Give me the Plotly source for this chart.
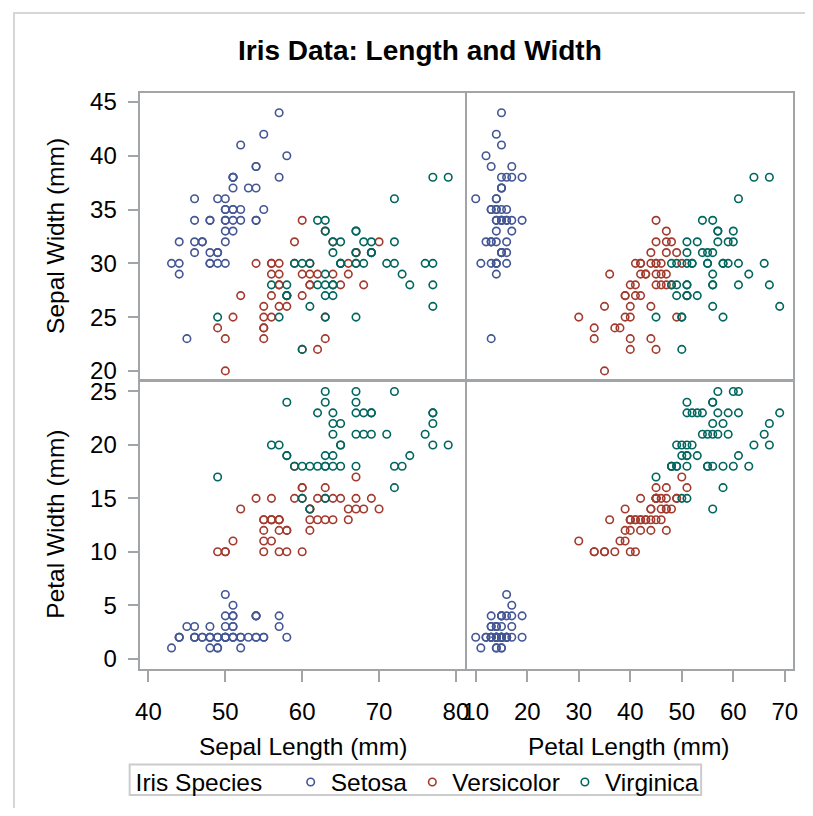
import plotly.graph_objects as go

# Iris data (mm)
species_names = ["Setosa", "Versicolor", "Virginica"]

setosa_sepal_length = [51,49,47,46,50,54,46,50,44,49,54,48,48,43,58,57,54,51,57,51,54,51,46,51,48,50,50,52,52,47,48,54,52,55,49,50,55,49,44,51,50,45,44,50,51,48,51,46,53,50]
setosa_sepal_width = [35,30,32,31,36,39,34,34,29,31,37,34,30,30,40,44,39,35,38,38,34,37,36,33,34,30,34,35,34,32,31,34,41,42,31,32,35,36,30,34,35,23,32,35,38,30,38,32,37,33]
setosa_petal_length = [14,14,13,15,14,17,14,15,14,15,15,16,14,11,12,15,13,14,17,15,17,15,10,17,19,16,16,15,14,16,16,15,15,14,15,12,13,14,13,15,13,13,13,16,19,14,16,14,15,14]
setosa_petal_width = [2,2,2,2,2,4,3,2,2,1,2,2,1,1,2,4,4,3,3,3,2,4,2,5,2,2,4,2,2,2,2,4,1,2,2,2,2,1,2,2,3,3,2,6,4,3,2,2,2,2]

versicolor_sepal_length = [70,64,69,55,65,57,63,49,66,52,50,59,60,61,56,67,56,58,62,56,59,61,63,61,64,66,68,67,60,57,55,55,58,60,54,60,67,63,56,55,55,61,58,50,56,57,57,62,51,57]
versicolor_sepal_width = [32,32,31,23,28,28,33,24,29,27,20,30,22,29,29,31,30,27,22,25,32,28,25,28,29,30,28,30,29,26,24,24,27,27,30,34,31,23,30,25,26,30,26,23,27,30,29,29,25,28]
versicolor_petal_length = [47,45,49,40,46,45,47,33,46,39,35,42,40,47,36,44,45,41,45,39,48,40,49,47,43,44,48,50,45,35,38,37,39,51,45,45,47,44,41,40,44,46,40,33,42,42,42,43,30,41]
versicolor_petal_width = [14,15,15,13,15,13,16,10,13,14,10,15,10,14,13,14,15,10,15,11,18,13,15,12,13,14,14,17,15,10,11,10,12,16,15,16,15,13,13,13,12,14,12,10,13,12,13,13,11,13]

virginica_sepal_length = [63,58,71,63,65,76,49,73,67,72,65,64,68,57,58,64,65,77,77,60,69,56,77,63,67,72,62,61,64,72,74,79,64,63,61,77,63,64,60,69,67,69,58,68,67,67,63,65,62,59]
virginica_sepal_width = [33,27,30,29,30,30,25,29,25,36,32,27,30,25,28,32,30,38,26,22,32,28,28,27,33,32,28,30,28,30,28,38,28,28,26,30,34,31,30,31,31,31,27,32,33,30,25,30,34,30]
virginica_petal_length = [60,51,59,56,58,66,45,63,58,61,51,53,55,50,51,53,55,67,69,50,57,49,67,49,57,60,48,49,56,58,61,64,56,51,56,61,56,55,48,54,56,51,51,59,57,52,50,52,54,51]
virginica_petal_width = [25,19,21,18,22,21,17,18,18,25,20,19,21,20,24,23,18,22,23,15,23,20,20,18,21,18,18,18,21,16,19,20,22,15,14,23,24,18,18,21,24,23,19,23,25,23,19,20,23,18]

species_colors = ["#445694", "#A23A2E", "#01665E"]

x_tick_sepal = [40, 50, 60, 70, 80]
x_tick_petal = [10, 20, 30, 40, 50, 60, 70]
y_tick_sepal = [20, 25, 30, 35, 40, 45]
y_tick_petal = [0, 5, 10, 15, 20, 25]

data = {
    "Setosa": (setosa_sepal_length, setosa_sepal_width, setosa_petal_length, setosa_petal_width),
    "Versicolor": (versicolor_sepal_length, versicolor_sepal_width, versicolor_petal_length, versicolor_petal_width),
    "Virginica": (virginica_sepal_length, virginica_sepal_width, virginica_petal_length, virginica_petal_width),
}

OFF = 8  # browser body margin
W, H = 813 - 2 * OFF, 816 - 2 * OFF
FONT = "Liberation Sans, Arial, sans-serif"
GRID = "#A2A5A8"
FS = 24.5

def px(x):
    return (x - OFF) / W

def py(y):
    return 1 - (y - OFF) / H

fig = go.Figure()

# panel: (xaxis, yaxis, xvar index, yvar index)
panels = [("x", "y", 0, 1), ("x2", "y2", 2, 1), ("x3", "y3", 0, 3), ("x4", "y4", 2, 3)]

for pi, (xa, ya, xi, yi) in enumerate(panels):
    for si, name in enumerate(species_names):
        vals = data[name]
        fig.add_trace(go.Scatter(
            x=vals[xi], y=vals[yi], mode="markers", name=name,
            xaxis=xa, yaxis=ya,
            legendgroup=name, showlegend=(pi == 0),
            marker=dict(symbol="circle-open", size=7.5, color=species_colors[si],
                        line=dict(width=1.6, color=species_colors[si])),
        ))

xl = [px(137), px(466)]
xr = [px(468), px(798)]
yt = [py(379), py(89)]
yb = [py(671), py(380)]

common = dict(showgrid=False, zeroline=False, showline=True, mirror=True,
              linecolor=GRID, linewidth=2, tickcolor=GRID, tickwidth=2,
              tickfont=dict(family=FONT, size=24, color="#000000"))

fig.update_layout(
    xaxis=dict(domain=xl, range=[38.84, 81.16], anchor="y", showticklabels=False, ticks="", **common),
    yaxis=dict(domain=yt, range=[19.17, 45.83], anchor="x", tickvals=y_tick_sepal, ticks="outside",
               ticklen=10, ticklabelstandoff=6, **common),
    xaxis2=dict(domain=xr, range=[8.27, 71.6], anchor="y2", showticklabels=False, ticks="", **common),
    yaxis2=dict(domain=yt, range=[19.17, 45.83], anchor="x2", showticklabels=False, ticks="", **common),
    xaxis3=dict(domain=xl, range=[38.84, 81.16], anchor="y3", tickvals=x_tick_sepal, ticks="outside",
                ticklen=11, ticklabelstandoff=10, **common),
    yaxis3=dict(domain=yb, range=[-0.93, 26.0], anchor="x3", tickvals=y_tick_petal, ticks="outside",
                ticklen=10, ticklabelstandoff=6, **common),
    xaxis4=dict(domain=xr, range=[8.27, 71.6], anchor="y4", tickvals=x_tick_petal, ticks="outside",
                ticklen=11, ticklabelstandoff=10, **common),
    yaxis4=dict(domain=yb, range=[-0.93, 26.0], anchor="x4", showticklabels=False, ticks="", **common),
)

annotations = [
    dict(text="<b>Iris Data: Length and Width</b>", x=px(421), y=py(46), font=dict(size=28)),
    dict(text="Sepal Width (mm)", x=px(52), y=py(234), textangle=-90, font=dict(size=FS)),
    dict(text="Petal Width (mm)", x=px(52), y=py(525), textangle=-90, font=dict(size=FS)),
    dict(text="Sepal Length (mm)", x=px(302), y=py(750), font=dict(size=FS)),
    dict(text="Petal Length (mm)", x=px(632), y=py(750), font=dict(size=FS)),
]
for a in annotations:
    a.update(xref="paper", yref="paper", showarrow=False, xanchor="center", yanchor="middle")
    a["font"].update(family=FONT, color="#000000")

fig.update_layout(
    width=W, height=H,
    margin=dict(l=0, r=0, t=0, b=0),
    paper_bgcolor="white", plot_bgcolor="white",
    font=dict(family=FONT, color="#000000"),
    annotations=annotations,
    shapes=[
        dict(type="rect", xref="paper", yref="paper", x0=px(10), x1=1.05, y0=-0.05, y1=py(8),
             line=dict(color="#D6D6D6", width=2), fillcolor="rgba(0,0,0,0)", layer="below"),
        dict(type="rect", xref="paper", yref="paper", x0=px(127), x1=px(705), y0=py(799), y1=py(768),
             line=dict(color="#CCCCCC", width=2), fillcolor="rgba(0,0,0,0)", layer="below"),
    ],
    legend=dict(
        orientation="h", x=px(131), y=py(763), xanchor="left", yanchor="top",
        borderwidth=0, bgcolor="rgba(0,0,0,0)",
        font=dict(family=FONT, size=FS, color="#000000"),
        title=dict(text="Iris Species   ", font=dict(family=FONT, size=FS, color="#000000")),
        itemsizing="trace", tracegroupgap=0,
    ),
)

fig.write_html("out.html")
